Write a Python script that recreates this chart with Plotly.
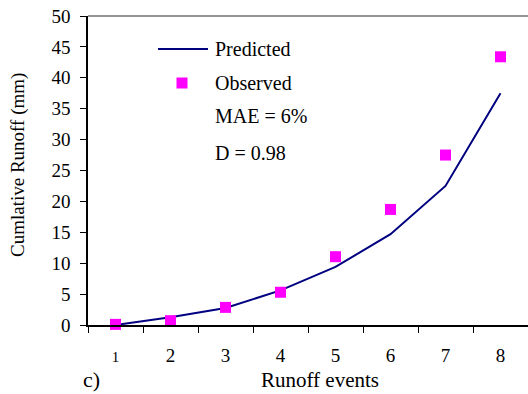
import plotly.graph_objects as go

events = ["1", "2", "3", "4", "5", "6", "7", "8"]
predicted = [0.0, 1.25, 2.75, 5.6, 9.4, 14.7, 22.5, 37.5]
observed = [0.1, 0.7, 2.85, 5.3, 11.05, 18.7, 27.5, 43.4]
y_ticks = [0, 5, 10, 15, 20, 25, 30, 35, 40, 45, 50]
stats_text = ["MAE = 6%", "D = 0.98"]

W, H = 528, 394
L, R, T, B = 88, 0, 16, 69
PW, PH = W - L - R, H - T - B

def px(x):
    return (x - L) / PW

def py(y):
    return (H - B - y) / PH

FONT = "Liberation Serif"
NAVY = "#000080"
MAG = "#FF00FF"

fig = go.Figure()
fig.add_trace(go.Scatter(x=events, y=predicted, mode="lines",
                         line=dict(color=NAVY, width=2), name="Predicted",
                         cliponaxis=False, showlegend=False))
fig.add_trace(go.Scatter(x=events, y=observed, mode="markers",
                         marker=dict(color=MAG, symbol="square", size=11,
                                     line=dict(width=0)),
                         name="Observed", cliponaxis=False, showlegend=False))

ticktext = ['<span style="font-size:15px">1</span>'] + events[1:]

fig.update_xaxes(type="category", categoryorder="array", categoryarray=events,
                 tickmode="array", tickvals=events, ticktext=ticktext,
                 range=[-0.5, 7.5], tickson="boundaries",
                 ticks="outside", ticklen=6, tickwidth=1, tickcolor="black",
                 showline=True, linecolor="black", linewidth=1.5,
                 showgrid=False, zeroline=False, ticklabelstandoff=12,
                 tickfont=dict(family=FONT, size=19, color="black"))
fig.update_yaxes(range=[0, 50], tickmode="array", tickvals=y_ticks,
                 ticks="outside", ticklen=6, tickwidth=1, tickcolor="black",
                 showline=True, linecolor="black", linewidth=1.5,
                 showgrid=False, zeroline=False, ticklabelstandoff=6,
                 tickfont=dict(family=FONT, size=19, color="black"))

# top border
fig.add_shape(type="line", xref="paper", yref="paper", x0=0, x1=1, y0=1, y1=1,
              line=dict(color="#707070", width=1.5))

# manual legend
fig.add_shape(type="line", xref="paper", yref="paper",
              x0=px(158), x1=px(208), y0=py(49), y1=py(49),
              line=dict(color=NAVY, width=2))
fig.add_trace(go.Scatter(x=[px(182)], y=[py(83)], xaxis="x2", yaxis="y2",
                         mode="markers", showlegend=False, hoverinfo="skip",
                         marker=dict(color=MAG, symbol="square", size=11)))
fig.update_layout(
    xaxis2=dict(overlaying="x", range=[0, 1], visible=False, anchor="y2"),
    yaxis2=dict(overlaying="y", range=[0, 1], visible=False, anchor="x2"),
)

labels = [("Predicted", 48.5), ("Observed", 83), (stats_text[0], 116.5), (stats_text[1], 153)]
for txt, yy in labels:
    fig.add_annotation(xref="paper", yref="paper", x=px(213), y=py(yy),
                       text=txt, showarrow=False, xanchor="left", yanchor="middle",
                       font=dict(family=FONT, size=20, color="black"))

# axis titles
fig.add_annotation(xref="paper", yref="paper", x=px(320), y=py(380),
                   text="Runoff events", showarrow=False,
                   xanchor="center", yanchor="middle",
                   font=dict(family=FONT, size=21, color="black"))
fig.add_annotation(xref="paper", yref="paper", x=px(18), y=py(165),
                   text="Cumlative Runoff (mm)", showarrow=False, textangle=-90,
                   xanchor="center", yanchor="middle",
                   font=dict(family=FONT, size=19, color="black"))
fig.add_annotation(xref="paper", yref="paper", x=px(91), y=py(394),
                   text="c)", showarrow=False, xanchor="center", yanchor="bottom",
                   font=dict(family=FONT, size=22, color="black"))

fig.update_layout(width=W, height=H, margin=dict(l=L, r=R, t=T, b=B),
                  plot_bgcolor="white", paper_bgcolor="white", showlegend=False)

fig.write_html("out.html")
